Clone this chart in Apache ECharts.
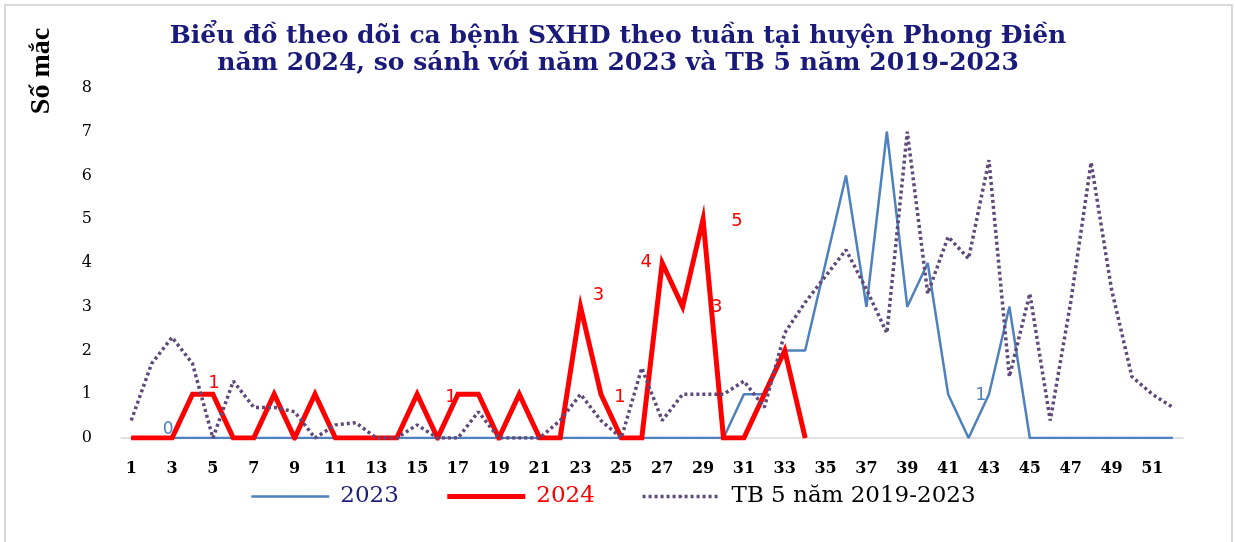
<!DOCTYPE html>
<html>
<head>
<meta charset="utf-8">
<script src="https://cdn.jsdelivr.net/npm/echarts@6/dist/echarts.min.js"></script>
<style>
html,body{margin:0;padding:0;background:#fff;width:1236px;height:542px;overflow:hidden}
#frame{position:absolute;left:4px;top:4px;width:1229px;height:560px;border:2px solid #D9D9D9;border-bottom:none;box-sizing:border-box}
#chart{position:absolute;left:0;top:0;width:1236px;height:542px}
</style>
</head>
<body>
<div id="frame"></div>
<div id="chart"></div>
<script>
// ---- data ----
const weeks = ['1','2','3','4','5','6','7','8','9','10','11','12','13','14','15','16','17','18','19','20',
  '21','22','23','24','25','26','27','28','29','30','31','32','33','34','35','36','37','38','39','40',
  '41','42','43','44','45','46','47','48','49','50','51','52'];
const cases2023 = [0,0,0,0,0,0,0,0,0,0, 0,0,0,0,0,0,0,0,0,0, 0,0,0,0,0,0,0,0,0,0,
  1,1,2,2,4,6,3,7,3,4, 1,0,1,3,0,0,0,0,0,0, 0,0];
const cases2024 = [0,0,0,1,1,0,0,1,0,1, 0,0,0,0,1,0,1,1,0,1, 0,0,3,1,0,0,4,3,5,0,
  0,1,2,0,null,null,null,null,null,null, null,null,null,null,null,null,null,null,null,null, null,null];
const avg5y = [0.4,1.7,2.3,1.7,0,1.3,0.7,0.7,0.6,0, 0.3,0.35,0,0,0.3,0,0,0.6,0,0,
  0,0.4,1.0,0.4,0,1.6,0.4,1.0,1.0,1.0, 1.3,0.7,2.4,3.1,3.7,4.3,3.4,2.4,7.0,3.3,
  4.6,4.1,6.35,1.4,3.3,0.4,3.1,6.3,3.4,1.4, 1.0,0.7];
const seriesNames = ['2023','2024','TB 5 năm 2019-2023'];
const titleText = 'Biểu đồ theo dõi ca bệnh SXHD theo tuần tại huyện Phong Điền\nnăm 2024, so sánh với năm 2023 và TB 5 năm 2019-2023';
const yAxisTitle = 'Số mắc';
const labeledWeeks2023 = [3, 43];
const labeledWeeks2024 = [5, 17, 23, 24, 27, 28, 29];

// ---- label placement (styling, kept apart from data) ----
const labelOffsets = {
  '2023': {3:[-4,-8], 43:[-8,1]},
  '2024': {5:[1,-11], 17:[-7,3], 23:[18,-11], 24:[19,3], 27:[-16,-1], 28:[34,1], 29:[34,2]}
};

function withLabels(values, weeksList, offsets, color, size) {
  return values.map((v, i) => {
    const w = i + 1;
    if (v === null || weeksList.indexOf(w) < 0) return v;
    return {value: v, label: {show: true, position: 'inside', offset: offsets[w] || [0,-10],
      color: color, fontSize: size, fontFamily: 'DejaVu Sans'}};
  });
}

const chart = echarts.init(document.getElementById('chart'), null, {renderer: 'canvas'});
chart.setOption({
  animation: false,
  backgroundColor: 'transparent',
  title: {
    text: titleText,
    left: 'center',
    top: 18,
    textStyle: {fontFamily: 'DejaVu Serif', fontWeight: 'bold', fontSize: 25, color: '#1A1A7A', lineHeight: 27}
  },
  graphic: [{
    type: 'text', x: 42, y: 71, rotation: Math.PI / 2,
    style: {text: yAxisTitle, font: 'bold 28px "Liberation Serif"', fill: '#000', align: 'center', verticalAlign: 'middle'}
  }],
  legend: {
    left: 245, top: 480, itemWidth: 78, itemHeight: 2, itemGap: 46,
    textStyle: {fontFamily: 'DejaVu Serif', fontSize: 23, padding: [0,0,0,6]},
    lineStyle: {width: 'inherit'},
    data: [
      {name: seriesNames[0], textStyle: {color: '#1F1F7F'}, lineStyle: {width: 2.5}},
      {name: seriesNames[1], textStyle: {color: '#FF0000'}, lineStyle: {width: 5}},
      {name: seriesNames[2], textStyle: {color: '#000000'}, lineStyle: {width: 3.5}}
    ]
  },
  grid: {left: 121, right: 53, top: 88, bottom: 104, outerBoundsMode: 'none'},
  xAxis: {
    type: 'category', data: weeks, boundaryGap: true,
    axisLine: {lineStyle: {color: '#D9D9D9', width: 1.5}},
    axisTick: {show: false},
    axisLabel: {interval: 1, margin: 23, color: '#000', fontFamily: 'DejaVu Serif', fontWeight: 'bold', fontSize: 16}
  },
  yAxis: {
    type: 'value', min: 0, max: 8, interval: 1,
    axisLine: {show: false}, axisTick: {show: false}, splitLine: {show: false},
    axisLabel: {margin: 29, color: '#000', fontFamily: 'DejaVu Serif', fontSize: 16}
  },
  series: [
    {
      name: seriesNames[0], type: 'line', z: 2,
      data: withLabels(cases2023, labeledWeeks2023, labelOffsets['2023'], '#4F81BD', 17),
      symbol: 'circle', symbolSize: 1, showSymbol: true, showAllSymbol: true,
      itemStyle: {color: '#4F81BD'},
      lineStyle: {color: '#4F81BD', width: 2.5},
      label: {show: false}
    },
    {
      name: seriesNames[1], type: 'line', z: 3,
      data: withLabels(cases2024, labeledWeeks2024, labelOffsets['2024'], '#FF0000', 18),
      symbol: 'circle', symbolSize: 1, showSymbol: true, showAllSymbol: true,
      itemStyle: {color: '#FF0000'},
      lineStyle: {color: '#FF0000', width: 5, join: 'miter'},
      label: {show: false}
    },
    {
      name: seriesNames[2], type: 'line', z: 4,
      data: avg5y,
      symbol: 'none', showSymbol: false,
      itemStyle: {color: '#5F497A'},
      lineStyle: {color: '#5F497A', width: 3.5, type: [3, 3]},
      label: {show: false}
    }
  ]
});
</script>
</body>
</html>
